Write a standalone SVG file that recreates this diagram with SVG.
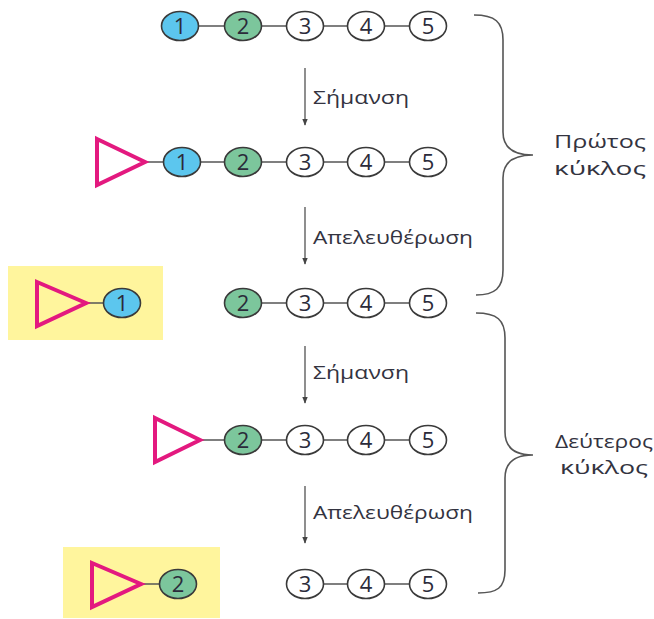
<svg xmlns="http://www.w3.org/2000/svg" width="654" height="619" viewBox="0 0 654 619">
<defs>
<style>
.bead{stroke:#3a3a3a;stroke-width:1.6}
.w{fill:#ffffff}.b{fill:#5cc6ee}.g{fill:#7cc69c}
.num{font-family:"Open Sans","Liberation Sans",sans-serif;font-size:22px;fill:#2b2b3a;text-anchor:middle}
.link{stroke:#555;stroke-width:1.3;fill:none}
.tri{fill:none;stroke:#e3197f;stroke-width:4;stroke-linejoin:miter}
.hl{fill:#fff59d}
.lbl{font-family:"Open Sans","Liberation Sans",sans-serif;font-size:18px;fill:#333340}
.cyc{font-family:"Open Sans","Liberation Sans",sans-serif;font-size:19px;fill:#333340;text-anchor:middle}
.arr{stroke:#444;stroke-width:1.2;fill:none}
.brace{stroke:#555;stroke-width:1.6;fill:none}
</style>
<marker id="ah" viewBox="0 0 10 10" refX="9" refY="5" markerWidth="7" markerHeight="7" orient="auto" markerUnits="userSpaceOnUse">
<path d="M0,1 L10,5 L0,9 Z" fill="#444"/>
</marker>
</defs>

<rect class="hl" x="8" y="266" width="155" height="74"/>
<rect class="hl" x="63" y="547" width="157" height="71"/>

<g id="connectors">
<path class="link" d="M198,26H225 M261,26H287 M323,26H348 M384,26H410"/>
<path class="link" d="M145,162H164 M200,162H225 M261,162H287 M323,162H348 M384,162H410"/>
<path class="link" d="M87,303H104 M261,303H287 M323,303H348 M384,303H410"/>
<path class="link" d="M200,440H225 M261,440H287 M323,440H348 M384,440H410"/>
<path class="link" d="M142,584H160 M323,584H348 M384,584H410"/>
<line class="arr" x1="305" y1="68" x2="305" y2="125" marker-end="url(#ah)"/>
<line class="arr" x1="305" y1="207" x2="305" y2="264" marker-end="url(#ah)"/>
<line class="arr" x1="305" y1="346" x2="305" y2="403" marker-end="url(#ah)"/>
<line class="arr" x1="305" y1="486" x2="305" y2="543" marker-end="url(#ah)"/>
<path class="brace" d="M474,15 C495,15 503,22 503,40 V132 C503,148 513,155 533,155 C513,155 503,162 503,178 V270 C503,288 495,295 476,295"/>
<path class="brace" d="M476,313 C497,313 505,320 505,338 V432 C505,448 515,455 533,455 C515,455 505,462 505,478 V570 C505,588 497,593 478,593"/>
</g>

<g id="labels">
<text class="lbl" x="313" y="104" textLength="96" lengthAdjust="spacingAndGlyphs">Σήμανση</text>
<text class="lbl" x="313" y="244" textLength="160" lengthAdjust="spacingAndGlyphs">Απελευθέρωση</text>
<text class="lbl" x="313" y="379" textLength="96" lengthAdjust="spacingAndGlyphs">Σήμανση</text>
<text class="lbl" x="313" y="519" textLength="160" lengthAdjust="spacingAndGlyphs">Απελευθέρωση</text>
<text class="cyc" x="600" y="148" textLength="92" lengthAdjust="spacingAndGlyphs">Πρώτος</text>
<text class="cyc" x="600" y="175" textLength="92" lengthAdjust="spacingAndGlyphs">κύκλος</text>
<text class="cyc" x="604" y="448" textLength="98" lengthAdjust="spacingAndGlyphs">Δεύτερος</text>
<text class="cyc" x="604" y="474" textLength="88" lengthAdjust="spacingAndGlyphs">κύκλος</text>
</g>

<g id="row1">
<g id="r1-1"><ellipse class="bead b" cx="180" cy="26" rx="18.5" ry="14.5"/><text class="num" x="180" y="34">1</text></g>
<g id="r1-2"><ellipse class="bead g" cx="243" cy="26" rx="18.5" ry="14.5"/><text class="num" x="243" y="34">2</text></g>
<g id="r1-3"><ellipse class="bead w" cx="305" cy="26" rx="18.5" ry="14.5"/><text class="num" x="305" y="34">3</text></g>
<g id="r1-4"><ellipse class="bead w" cx="366" cy="26" rx="18.5" ry="14.5"/><text class="num" x="366" y="34">4</text></g>
<g id="r1-5"><ellipse class="bead w" cx="428" cy="26" rx="18.5" ry="14.5"/><text class="num" x="428" y="34">5</text></g>
</g>

<g id="row2">
<g id="r2-tag"><polygon class="tri" points="97,139 145,162 97,185"/></g>
<g id="r2-1"><ellipse class="bead b" cx="182" cy="162" rx="18.5" ry="14.5"/><text class="num" x="182" y="170">1</text></g>
<g id="r2-2"><ellipse class="bead g" cx="243" cy="162" rx="18.5" ry="14.5"/><text class="num" x="243" y="170">2</text></g>
<g id="r2-3"><ellipse class="bead w" cx="305" cy="162" rx="18.5" ry="14.5"/><text class="num" x="305" y="170">3</text></g>
<g id="r2-4"><ellipse class="bead w" cx="366" cy="162" rx="18.5" ry="14.5"/><text class="num" x="366" y="170">4</text></g>
<g id="r2-5"><ellipse class="bead w" cx="428" cy="162" rx="18.5" ry="14.5"/><text class="num" x="428" y="170">5</text></g>
</g>

<g id="row3">
<g id="r3-tag"><polygon class="tri" points="37,282 86,303 37,326"/></g>
<g id="r3-1"><ellipse class="bead b" cx="122" cy="303" rx="18.5" ry="14.5"/><text class="num" x="122" y="311">1</text></g>
<g id="r3-2"><ellipse class="bead g" cx="243" cy="303" rx="18.5" ry="14.5"/><text class="num" x="243" y="311">2</text></g>
<g id="r3-3"><ellipse class="bead w" cx="305" cy="303" rx="18.5" ry="14.5"/><text class="num" x="305" y="311">3</text></g>
<g id="r3-4"><ellipse class="bead w" cx="366" cy="303" rx="18.5" ry="14.5"/><text class="num" x="366" y="311">4</text></g>
<g id="r3-5"><ellipse class="bead w" cx="428" cy="303" rx="18.5" ry="14.5"/><text class="num" x="428" y="311">5</text></g>
</g>

<g id="row4">
<g id="r4-tag"><polygon class="tri" points="155,418 200,440 155,462"/></g>
<g id="r4-2"><ellipse class="bead g" cx="243" cy="440" rx="18.5" ry="14.5"/><text class="num" x="243" y="448">2</text></g>
<g id="r4-3"><ellipse class="bead w" cx="305" cy="440" rx="18.5" ry="14.5"/><text class="num" x="305" y="448">3</text></g>
<g id="r4-4"><ellipse class="bead w" cx="366" cy="440" rx="18.5" ry="14.5"/><text class="num" x="366" y="448">4</text></g>
<g id="r4-5"><ellipse class="bead w" cx="428" cy="440" rx="18.5" ry="14.5"/><text class="num" x="428" y="448">5</text></g>
</g>

<g id="row5">
<g id="r5-tag"><polygon class="tri" points="92,563 141,584 92,607"/></g>
<g id="r5-2"><ellipse class="bead g" cx="178" cy="584" rx="18.5" ry="14.5"/><text class="num" x="178" y="592">2</text></g>
<g id="r5-3"><ellipse class="bead w" cx="305" cy="584" rx="18.5" ry="14.5"/><text class="num" x="305" y="592">3</text></g>
<g id="r5-4"><ellipse class="bead w" cx="366" cy="584" rx="18.5" ry="14.5"/><text class="num" x="366" y="592">4</text></g>
<g id="r5-5"><ellipse class="bead w" cx="428" cy="584" rx="18.5" ry="14.5"/><text class="num" x="428" y="592">5</text></g>
</g>
</svg>
